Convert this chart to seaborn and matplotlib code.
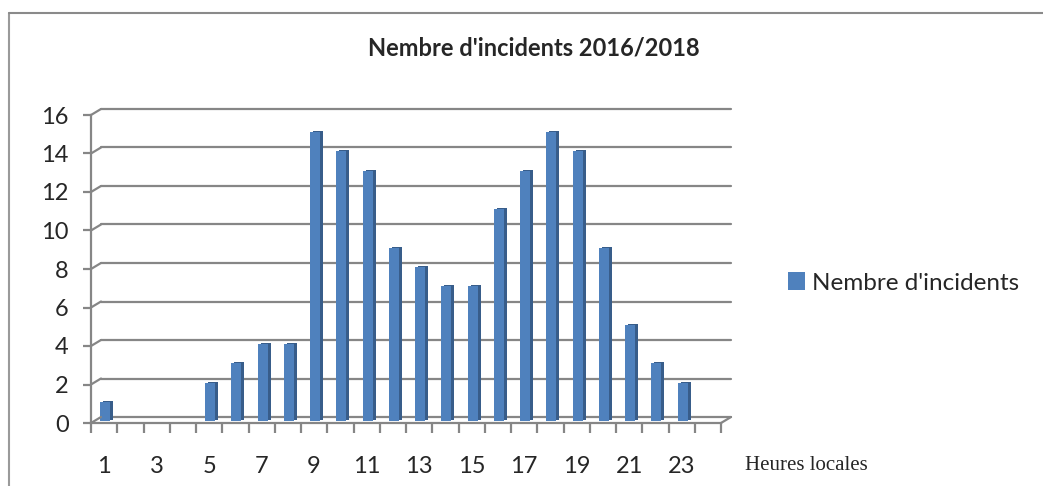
import numpy as np
import matplotlib
matplotlib.use("Agg")
import matplotlib.pyplot as plt
from matplotlib.transforms import ScaledTranslation
from matplotlib.lines import Line2D
from matplotlib.patches import Patch
import seaborn as sns

hours = [str(h) for h in range(1, 25)]
incidents = [1, 0, 0, 0, 2, 3, 4, 4, 15, 14, 13, 9, 8, 7, 7, 11, 13, 15, 14, 9, 5, 3, 2, 0]
y_ticks = list(range(0, 17, 2))
x_labels = [str(h) for h in range(1, 25, 2)]

title = "Nembre d'incidents 2016/2018"
series_name = "Nembre d'incidents"
x_title = "Heures locales"

FRONT = "#4F81BD"
SIDE = "#385D8A"
GRID = "#868686"

sns.set_style("white")
plt.rcParams["font.family"] = ["Lato", "DejaVu Sans"]

W, H, DPI = 1043, 486, 100
fig = plt.figure(figsize=(W / DPI, H / DPI), dpi=DPI)

# plot area in pixels (front plane)
x0, x1, y0, y1 = 91, 721, 423, 115
ax = fig.add_axes([x0 / W, 1 - y0 / H, (x1 - x0) / W, (y0 - y1) / H])

def px(dx, dy):
    return ScaledTranslation(dx / DPI, -dy / DPI, fig.dpi_scale_trans)

# side faces of the 3D columns, then the front faces
sns.barplot(x=hours, y=incidents, order=hours, color=SIDE, width=0.38,
            saturation=1, linewidth=0, ax=ax)
n_side = len(ax.patches)
for p in ax.patches[:n_side]:
    p.set_transform(ax.transData + px(4, -3))
    p.set_clip_on(False)
sns.barplot(x=hours, y=incidents, order=hours, color=FRONT, width=0.38,
            saturation=1, linewidth=0, ax=ax)
for p in ax.patches[n_side:]:
    p.set_transform(ax.transData + px(1, -2))
    p.set_clip_on(False)

ax.set_xlim(-0.5, 23.5)
ax.set_ylim(0, 16)
ax.set_xlabel("")
ax.set_ylabel("")

# back-wall gridlines
DX, DY = 10, -6
ax.set_yticks(y_ticks)
ax.yaxis.grid(True, color=GRID, linewidth=1.6)
ax.set_axisbelow(True)
for gl in ax.get_ygridlines():
    gl.set_transform(gl.get_transform() + px(DX, DY))
    gl.set_clip_on(False)

# depth connectors on the left edge and the right end of the floor
for v in y_ticks:
    yd = y0 - (y0 - y1) * v / 16
    fig.add_artist(Line2D([x0 / DPI, (x0 + DX) / DPI],
                          [(H - yd) / DPI, (H - yd - DY) / DPI],
                          transform=fig.dpi_scale_trans, color=GRID, lw=1.6))
fig.add_artist(Line2D([x1 / DPI, (x1 + DX) / DPI],
                      [(H - y0) / DPI, (H - y0 - DY) / DPI],
                      transform=fig.dpi_scale_trans, color=GRID, lw=1.6))

for s in ["top", "right"]:
    ax.spines[s].set_visible(False)
for s in ["left", "bottom"]:
    ax.spines[s].set_color(GRID)
    ax.spines[s].set_linewidth(1.6)

ax.tick_params(axis="y", direction="out", length=6, width=1.6, color=GRID,
               pad=10, labelsize=17, left=True)
ax.set_xticks(np.arange(0, 24, 2))
ax.set_xticklabels(x_labels)
ax.set_xticks(np.arange(-0.5, 24, 1), minor=True)
ax.tick_params(axis="x", which="major", length=0, pad=24, labelsize=17)
ax.tick_params(axis="x", which="minor", direction="out", length=7, width=1.6,
               color=GRID, bottom=True)

fig.text(534 / W, 1 - 48 / H, title, ha="center", va="center",
         fontsize=17, fontweight="bold")
fig.text(745 / W, 1 - 465 / H, x_title, ha="left", va="center",
         fontsize=15, family="Liberation Serif")

fig.legend(handles=[Patch(facecolor=FRONT, edgecolor="none", label=series_name)],
           loc="center left", bbox_to_anchor=(788 / W, 1 - 283 / H),
           frameon=False, fontsize=17.5, handlelength=0.7, handleheight=0.7,
           handletextpad=0.3, borderaxespad=0, borderpad=0)

# chart border
fig.add_artist(Line2D([9 / DPI, 9 / DPI], [0, (H - 13) / DPI],
                      transform=fig.dpi_scale_trans, color="#9a9a9a", lw=1.5))
fig.add_artist(Line2D([9 / DPI, W / DPI], [(H - 13) / DPI, (H - 13) / DPI],
                      transform=fig.dpi_scale_trans, color="#8a8a8a", lw=1.5))

fig.savefig("out.png", dpi=DPI)
